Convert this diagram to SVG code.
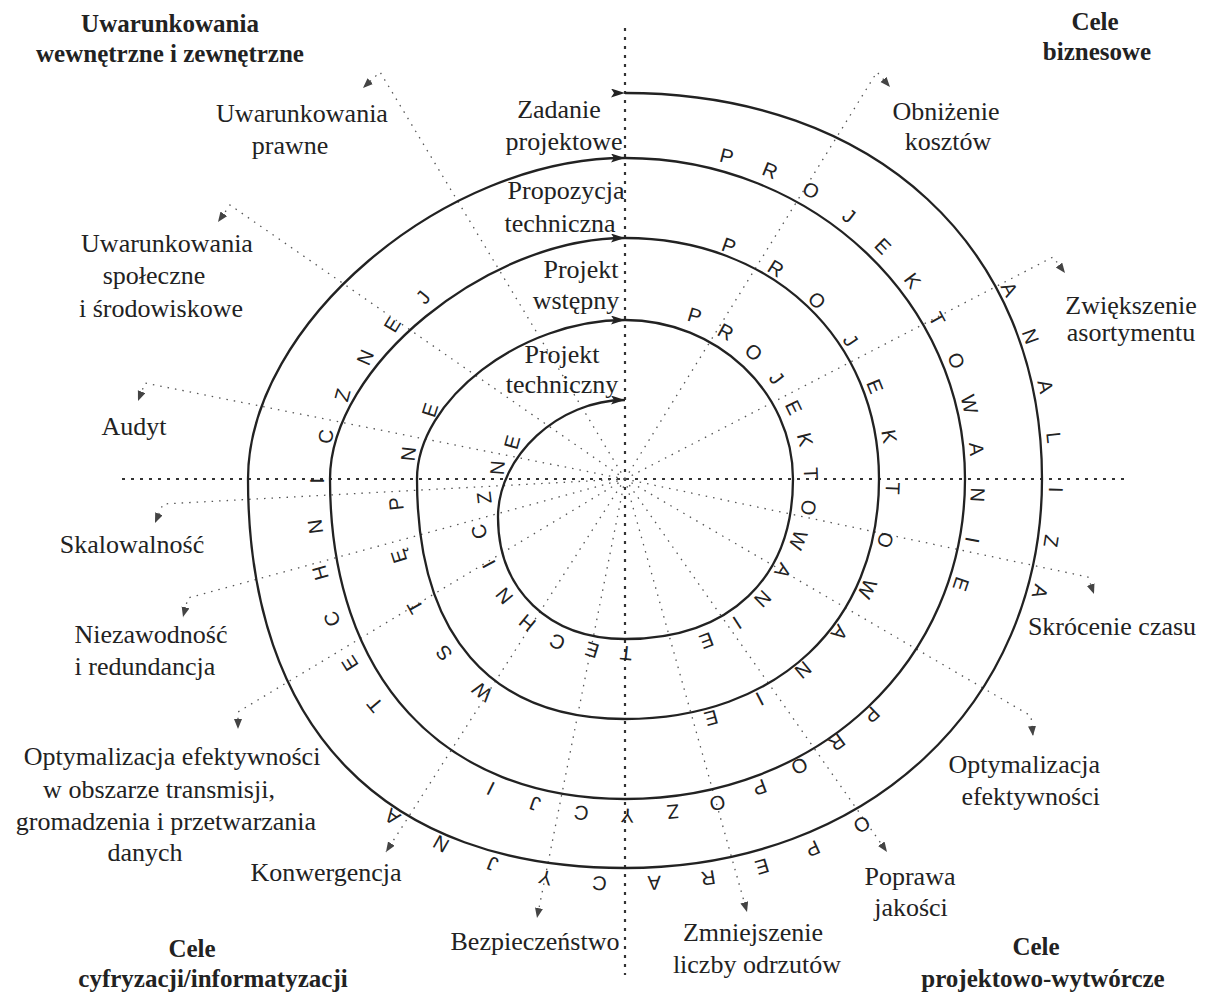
<svg xmlns="http://www.w3.org/2000/svg" width="1205" height="994" viewBox="0 0 1205 994">
<defs>
<style>
.lbl{font-family:"Liberation Serif","Times New Roman",serif;font-size:26px;fill:#222;text-anchor:middle}
.end{text-anchor:end}
.ttl{font-family:"Liberation Serif","Times New Roman",serif;font-size:25px;font-weight:bold;fill:#222;text-anchor:middle}
.sp{font-family:"Liberation Sans",Arial,sans-serif;font-size:20px;fill:#222;text-anchor:middle;dominant-baseline:central}
.loop{fill:none;stroke:#222;stroke-width:2.3}
.ray{fill:none;stroke:#555;stroke-width:1.3;stroke-dasharray:1.5 6;marker-end:url(#rayArrow)}
.axis{fill:none;stroke:#333;stroke-width:2.2;stroke-dasharray:3 6}
</style>
<marker id="rayArrow" markerUnits="userSpaceOnUse" markerWidth="11" markerHeight="9" refX="10" refY="4" orient="auto">
<path d="M0,0 L10,4 L0,8 Z" fill="#444"/>
</marker>
<marker id="loopArrow" markerUnits="userSpaceOnUse" markerWidth="15" markerHeight="10" refX="14" refY="4.5" orient="auto">
<path d="M0,0 L14,4.5 L0,9 L3,4.5 Z" fill="#222"/>
</marker>
</defs>
<rect width="1205" height="994" fill="#fff"/>

<g id="axes">
<line class="axis" x1="625" y1="28" x2="625" y2="975"/>
<line class="axis" x1="122" y1="479" x2="1130" y2="479"/>
</g>

<g id="connectors">
<polyline class="ray" points="625,479 380,72 363,88"/>
<polyline class="ray" points="625,479 230,205 218,222"/>
<polyline class="ray" points="625,479 145,383 138,401"/>
<polyline class="ray" points="625,479 163,504 155,523"/>
<polyline class="ray" points="625,479 188,598 183,617"/>
<polyline class="ray" points="625,479 238,712 238,729"/>
<polyline class="ray" points="625,479 386,852"/>
<polyline class="ray" points="625,479 537,918"/>
<polyline class="ray" points="625,479 747,912"/>
<polyline class="ray" points="625,479 887,852"/>
<polyline class="ray" points="625,479 1031,716 1033,736"/>
<polyline class="ray" points="625,479 1088,577 1094,594"/>
<polyline class="ray" points="625,479 1053,257 1065,273"/>
<polyline class="ray" points="625,479 877,72 890,87"/>
<path id="loop1" class="loop" marker-start="url(#loopArrow)" marker-end="url(#loopArrow)" d="M625,93 C875,93 1042,247 1042,479 C1042,705 867,868 625,868 C384,868 248,728 248,479 C248,325 444,158 625,158"/>
<path id="loop2" class="loop" marker-end="url(#loopArrow)" d="M625,158 C813,158 965,302 965,479 C965,661 819,799 625,799 C442,799 330,677 330,479 C330,367 487,238 625,238"/>
<path id="loop3" class="loop" marker-end="url(#loopArrow)" d="M625,238 C772,238 879,339 879,479 C879,623 777,719 625,719 C490,719 417,635 417,479 C417,400 521,320 625,320"/>
<path id="loop4" class="loop" marker-end="url(#loopArrow)" d="M625,320 C717,320 793,392 793,479 C793,578 730,639 625,639 C549,639 498,590 498,517 C498,456 559,400 625,400"/>
</g>

<g id="spiral-text">
<g id="band1">
<text class="sp" transform="rotate(62.5 645 479)" x="645" y="68">A</text>
<text class="sp" transform="rotate(69.7 645 479)" x="645" y="68">N</text>
<text class="sp" transform="rotate(77 645 479)" x="645" y="68">A</text>
<text class="sp" transform="rotate(84.2 645 479)" x="645" y="68">L</text>
<text class="sp" transform="rotate(91.5 645 479)" x="645" y="68">I</text>
<text class="sp" transform="rotate(98.7 645 479)" x="645" y="68">Z</text>
<text class="sp" transform="rotate(105.9 645 479)" x="645" y="68">A</text>
<text class="sp" transform="rotate(147.9 645 479)" x="645" y="71">O</text>
<text class="sp" transform="rotate(155.6 645 479)" x="645" y="73">P</text>
<text class="sp" transform="rotate(163.2 645 479)" x="645" y="74">E</text>
<text class="sp" transform="rotate(171 645 479)" x="645" y="75">R</text>
<text class="sp" transform="rotate(178.7 645 479)" x="645" y="75">A</text>
<text class="sp" transform="rotate(186.4 645 479)" x="645" y="72">C</text>
<text class="sp" transform="rotate(194 645 479)" x="645" y="68">Y</text>
<text class="sp" transform="rotate(201.6 645 479)" x="645" y="65">J</text>
<text class="sp" transform="rotate(209.2 645 479)" x="645" y="61">N</text>
<text class="sp" transform="rotate(216.8 645 479)" x="645" y="57">A</text>
</g>
<g id="band2">
<text class="sp" transform="rotate(14.2 645 479)" x="645" y="146">P</text>
<text class="sp" transform="rotate(22.05 645 479)" x="645" y="146">R</text>
<text class="sp" transform="rotate(29.9 645 479)" x="645" y="146">O</text>
<text class="sp" transform="rotate(37.75 645 479)" x="645" y="146">J</text>
<text class="sp" transform="rotate(45.6 645 479)" x="645" y="146">E</text>
<text class="sp" transform="rotate(53.45 645 479)" x="645" y="146">K</text>
<text class="sp" transform="rotate(61.3 645 479)" x="645" y="146">T</text>
<text class="sp" transform="rotate(69.15 645 479)" x="645" y="146">O</text>
<text class="sp" transform="rotate(77 645 479)" x="645" y="146">W</text>
<text class="sp" transform="rotate(84.85 645 479)" x="645" y="146">A</text>
<text class="sp" transform="rotate(92.7 645 479)" x="645" y="146">N</text>
<text class="sp" transform="rotate(100.55 645 479)" x="645" y="146">I</text>
<text class="sp" transform="rotate(108.4 645 479)" x="645" y="146">E</text>
<text class="sp" transform="rotate(136.1 645 479)" x="645" y="152">P</text>
<text class="sp" transform="rotate(143.9 645 479)" x="645" y="153">R</text>
<text class="sp" transform="rotate(151.7 645 479)" x="645" y="153">O</text>
<text class="sp" transform="rotate(159.6 645 479)" x="645" y="150">P</text>
<text class="sp" transform="rotate(167.4 645 479)" x="645" y="147">O</text>
<text class="sp" transform="rotate(175.2 645 479)" x="645" y="145">Z</text>
<text class="sp" transform="rotate(183 645 479)" x="645" y="142">Y</text>
<text class="sp" transform="rotate(190.8 645 479)" x="645" y="139">C</text>
<text class="sp" transform="rotate(198.7 645 479)" x="645" y="136">J</text>
<text class="sp" transform="rotate(206.5 645 479)" x="645" y="133">I</text>
<text class="sp" transform="rotate(230.1 645 479)" x="645" y="127">T</text>
<text class="sp" transform="rotate(238 645 479)" x="645" y="131">E</text>
<text class="sp" transform="rotate(245.9 645 479)" x="645" y="136">C</text>
<text class="sp" transform="rotate(253.9 645 479)" x="645" y="141">H</text>
<text class="sp" transform="rotate(261.8 645 479)" x="645" y="146">N</text>
<text class="sp" transform="rotate(269.7 645 479)" x="645" y="151">I</text>
<text class="sp" transform="rotate(277.6 645 479)" x="645" y="157">C</text>
<text class="sp" transform="rotate(285.5 645 479)" x="645" y="165">Z</text>
<text class="sp" transform="rotate(293.5 645 479)" x="645" y="174">N</text>
<text class="sp" transform="rotate(301.4 645 479)" x="645" y="183">E</text>
<text class="sp" transform="rotate(309.3 645 479)" x="645" y="192">J</text>
</g>
<g id="band3">
<text class="sp" transform="rotate(19.8 645 479)" x="645" y="231">P</text>
<text class="sp" transform="rotate(31.86 645 479)" x="645" y="231">R</text>
<text class="sp" transform="rotate(43.92 645 479)" x="645" y="231">O</text>
<text class="sp" transform="rotate(55.98 645 479)" x="645" y="231">J</text>
<text class="sp" transform="rotate(68.04 645 479)" x="645" y="231">E</text>
<text class="sp" transform="rotate(80.1 645 479)" x="645" y="231">K</text>
<text class="sp" transform="rotate(92.16 645 479)" x="645" y="231">T</text>
<text class="sp" transform="rotate(104.22 645 479)" x="645" y="231">O</text>
<text class="sp" transform="rotate(116.28 645 479)" x="645" y="231">W</text>
<text class="sp" transform="rotate(128.34 645 479)" x="645" y="231">A</text>
<text class="sp" transform="rotate(140.4 645 479)" x="645" y="231">N</text>
<text class="sp" transform="rotate(152.46 645 479)" x="645" y="231">I</text>
<text class="sp" transform="rotate(164.52 645 479)" x="645" y="231">E</text>
<text class="sp" transform="rotate(217.4 645 479)" x="645" y="211">W</text>
<text class="sp" transform="rotate(229.1 645 479)" x="645" y="213">S</text>
<text class="sp" transform="rotate(240.9 645 479)" x="645" y="216">T</text>
<text class="sp" transform="rotate(252.6 645 479)" x="645" y="221">Ę</text>
<text class="sp" transform="rotate(264.3 645 479)" x="645" y="229">P</text>
<text class="sp" transform="rotate(276.1 645 479)" x="645" y="241">N</text>
<text class="sp" transform="rotate(287.8 645 479)" x="645" y="253">E</text>
</g>
<g id="band4">
<text class="sp" transform="rotate(16.9 645 479)" x="645" y="308">P</text>
<text class="sp" transform="rotate(28.76 645 479)" x="645" y="311">R</text>
<text class="sp" transform="rotate(40.62 645 479)" x="645" y="312">O</text>
<text class="sp" transform="rotate(52.48 645 479)" x="645" y="313">J</text>
<text class="sp" transform="rotate(64.34 645 479)" x="645" y="314">E</text>
<text class="sp" transform="rotate(76.2 645 479)" x="645" y="314">K</text>
<text class="sp" transform="rotate(88.06 645 479)" x="645" y="313">T</text>
<text class="sp" transform="rotate(99.92 645 479)" x="645" y="313">O</text>
<text class="sp" transform="rotate(111.78 645 479)" x="645" y="314">W</text>
<text class="sp" transform="rotate(123.64 645 479)" x="645" y="313">A</text>
<text class="sp" transform="rotate(135.5 645 479)" x="645" y="311">N</text>
<text class="sp" transform="rotate(147.36 645 479)" x="645" y="308">I</text>
<text class="sp" transform="rotate(159.22 645 479)" x="645" y="306">E</text>
<text class="sp" transform="rotate(186.2 645 479)" x="645" y="304">T</text>
<text class="sp" transform="rotate(197.2 645 479)" x="645" y="300">E</text>
<text class="sp" transform="rotate(208.3 645 479)" x="645" y="294">C</text>
<text class="sp" transform="rotate(219.3 645 479)" x="645" y="293">H</text>
<text class="sp" transform="rotate(230.3 645 479)" x="645" y="296">N</text>
<text class="sp" transform="rotate(241.4 645 479)" x="645" y="301">I</text>
<text class="sp" transform="rotate(252.4 645 479)" x="645" y="305">C</text>
<text class="sp" transform="rotate(263.4 645 479)" x="645" y="317">Z</text>
<text class="sp" transform="rotate(274.4 645 479)" x="645" y="331">N</text>
<text class="sp" transform="rotate(285.5 645 479)" x="645" y="341">E</text>
</g>
</g>

<g id="title-uwarunkowania"><text class="ttl" x="170" y="32">Uwarunkowania</text><text class="ttl" x="170" y="62">wewnętrzne i zewnętrzne</text></g>
<g id="title-biznesowe"><text class="ttl" x="1095" y="30">Cele</text><text class="ttl" x="1097" y="60">biznesowe</text></g>
<g id="title-cyfryzacji"><text class="ttl" x="192" y="957">Cele</text><text class="ttl" x="213" y="987">cyfryzacji/informatyzacji</text></g>
<g id="title-projektowo"><text class="ttl" x="1036" y="955">Cele</text><text class="ttl" x="1043" y="987">projektowo-wytwórcze</text></g>

<g id="node-prawne"><text class="lbl" x="302" y="122">Uwarunkowania</text><text class="lbl" x="290" y="154">prawne</text></g>
<g id="node-spoleczne"><text class="lbl" x="167" y="252">Uwarunkowania</text><text class="lbl" x="154" y="284">społeczne</text><text class="lbl" x="161" y="317">i środowiskowe</text></g>
<g id="node-audyt"><text class="lbl" x="134" y="435">Audyt</text></g>
<g id="node-skalowalnosc"><text class="lbl" x="132" y="553">Skalowalność</text></g>
<g id="node-niezawodnosc"><text class="lbl" x="151" y="643">Niezawodność</text><text class="lbl" x="145" y="675">i redundancja</text></g>
<g id="node-transmisja"><text class="lbl" x="172" y="765">Optymalizacja efektywności</text><text class="lbl" x="159" y="798">w obszarze transmisji,</text><text class="lbl" x="166" y="830">gromadzenia i przetwarzania</text><text class="lbl" x="145" y="861">danych</text></g>
<g id="node-konwergencja"><text class="lbl" x="326" y="881">Konwergencja</text></g>
<g id="node-bezpieczenstwo"><text class="lbl" x="535" y="950">Bezpieczeństwo</text></g>
<g id="node-odrzuty"><text class="lbl" x="753" y="941">Zmniejszenie</text><text class="lbl" x="757" y="973">liczby odrzutów</text></g>
<g id="node-jakosc"><text class="lbl" x="910" y="885">Poprawa</text><text class="lbl" x="911" y="916">jakości</text></g>
<g id="node-efektywnosc"><text class="lbl end" x="1100" y="773">Optymalizacja</text><text class="lbl end" x="1100" y="805">efektywności</text></g>
<g id="node-czas"><text class="lbl" x="1112" y="635">Skrócenie czasu</text></g>
<g id="node-asortyment"><text class="lbl" x="1131" y="314">Zwiększenie</text><text class="lbl" x="1131" y="341">asortymentu</text></g>
<g id="node-koszty"><text class="lbl" x="946" y="120">Obniżenie</text><text class="lbl" x="948" y="150">kosztów</text></g>
<g id="node-zadanie"><text class="lbl" x="559" y="118">Zadanie</text><text class="lbl" x="564" y="150">projektowe</text></g>
<g id="node-propozycja"><text class="lbl" x="566" y="199">Propozycja</text><text class="lbl" x="560" y="232">techniczna</text></g>
<g id="node-wstepny"><text class="lbl" x="581" y="278">Projekt</text><text class="lbl" x="576" y="309">wstępny</text></g>
<g id="node-techniczny"><text class="lbl" x="562" y="363">Projekt</text><text class="lbl" x="562" y="393">techniczny</text></g>
</svg>
